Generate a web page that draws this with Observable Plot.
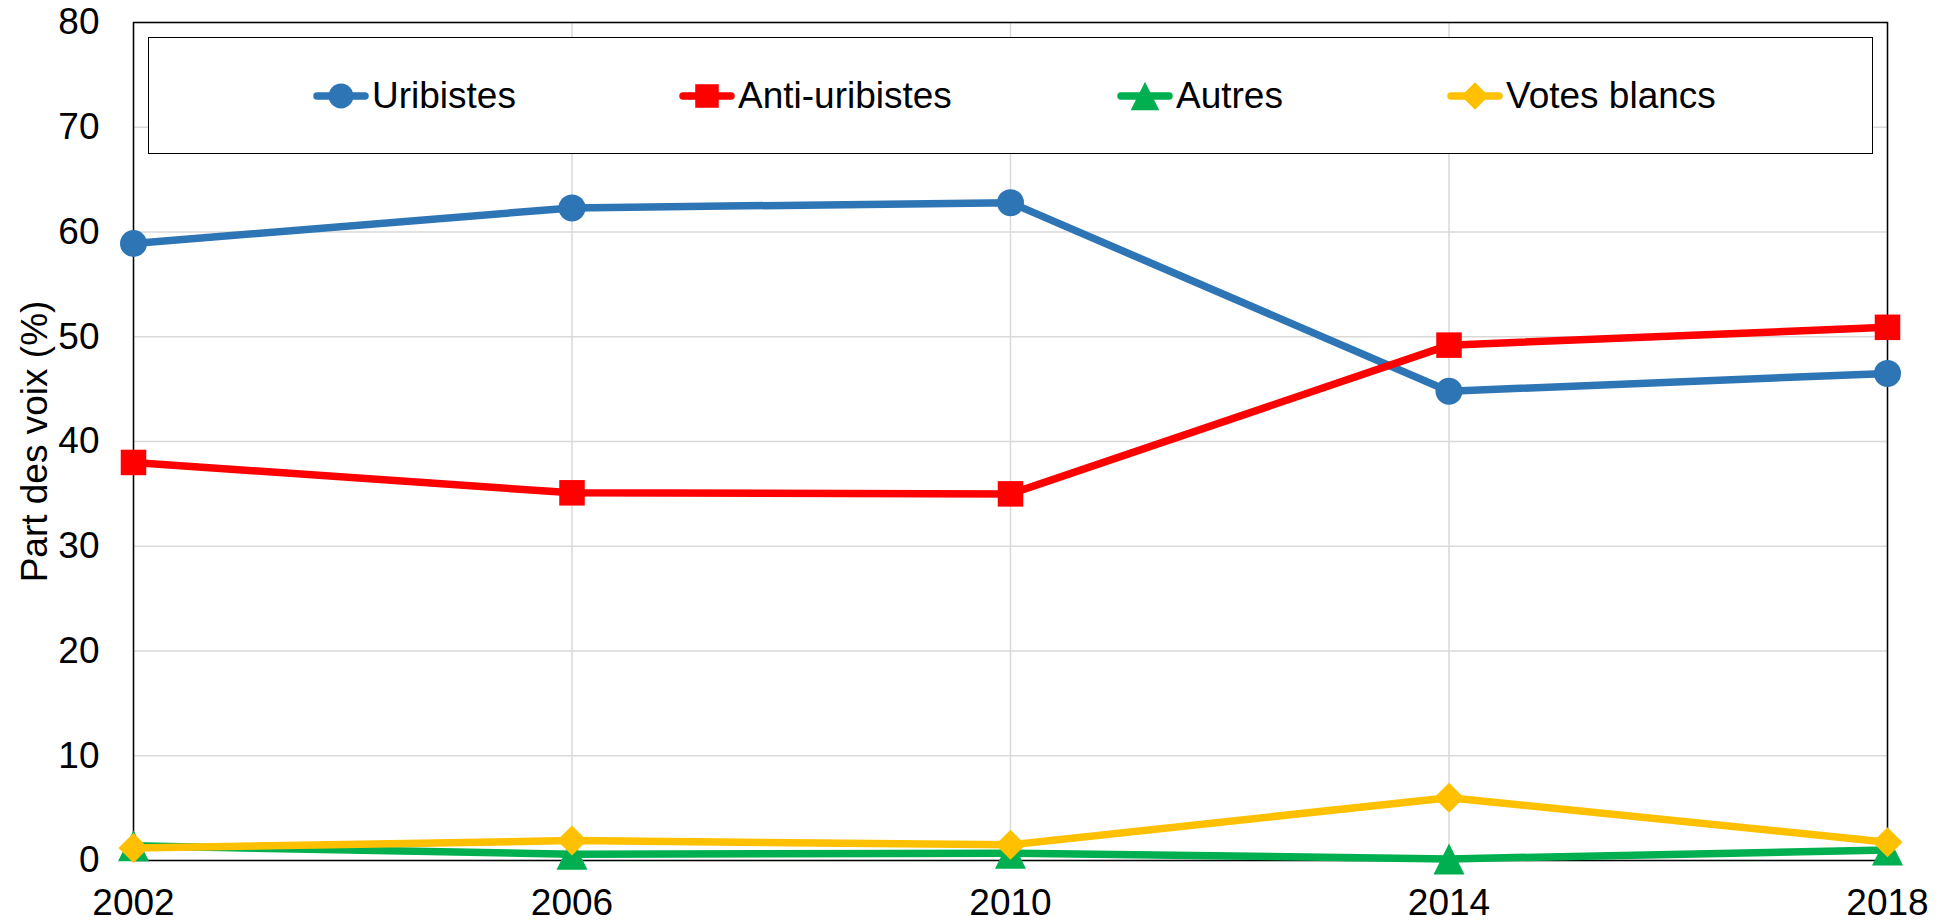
<!DOCTYPE html>
<html>
<head>
<meta charset="utf-8">
<script src="https://cdn.jsdelivr.net/npm/d3@7"></script>
<script src="https://cdn.jsdelivr.net/npm/@observablehq/plot@0.6"></script>
<style>
  html, body { margin: 0; padding: 0; background: #fff; }
  #wrap { position: relative; width: 1948px; height: 922px; font-family: "Liberation Sans", Arial, sans-serif; }
  #legend { position: absolute; left: 148px; top: 37px; width: 1723px; height: 115px; border: 1.5px solid #000; background: #fff; box-sizing: content-box; }
  .item { position: absolute; top: 0; height: 115px; display: flex; align-items: center; font-size: 37px; color: #000; }
  .item svg { display: block; margin-right: 3px; }
</style>
</head>
<body>
<div id="wrap"><div id="chart"></div><div id="legend"></div></div>
<script>
// ---- data ----
const years = [2002, 2006, 2010, 2014, 2018];
const seriesNames = ["Uribistes", "Anti-uribistes", "Autres", "Votes blancs"];
const uribistes = [58.9, 62.3, 62.8, 44.8, 46.5];
const antiUribistes = [38.0, 35.1, 35.0, 49.2, 50.9];
const autres = [1.4, 0.6, 0.7, 0.15, 1.0];
const votesBlancs = [1.2, 1.9, 1.5, 6.0, 1.75];
const yTicks = [0, 10, 20, 30, 40, 50, 60, 70, 80];
const colors = ["#2E75B6", "#FF0000", "#00B050", "#FFC000"];

// ---- custom marker shapes (Excel-like) ----
const squareSym = {draw(c, size) { const s = Math.sqrt(size) / 2; c.rect(-s, -s, 2 * s, 2 * s); }};
const triangleSym = {draw(c, size) { const s = Math.sqrt(size) / 2; c.moveTo(0, -s); c.lineTo(s, s); c.lineTo(-s, s); c.closePath(); }};
const diamondSym = {draw(c, size) { const s = Math.sqrt(size) / 2; c.moveTo(0, -s); c.lineTo(s, 0); c.lineTo(0, s); c.lineTo(-s, 0); c.closePath(); }};
const symbols = ["circle", squareSym, triangleSym, diamondSym];
const radii = [13.5, 14.4, 17.5, 16.9];

const valuesBySeries = [uribistes, antiUribistes, autres, votesBlancs];
const tables = valuesBySeries.map((vals, i) => years.map((year, j) => ({year, value: vals[j], series: seriesNames[i]})));

const marks = [
  Plot.gridY(yTicks, {stroke: "#d9d9d9", strokeOpacity: 1, strokeWidth: 1.5}),
  Plot.gridX(years, {stroke: "#d9d9d9", strokeOpacity: 1, strokeWidth: 1.5}),
  Plot.frame({stroke: "#000", strokeWidth: 1.5}),
  Plot.axisX(years, {tickSize: 0, tickPadding: 28, tickFormat: d => String(d), fontSize: 37, label: null}),
  Plot.axisY(yTicks, {tickSize: 0, tickPadding: 34, fontSize: 37, label: "Part des voix (%)", labelAnchor: "center", labelOffset: 113, labelArrow: "none"})
];
tables.forEach((t, i) => {
  marks.push(Plot.line(t, {x: "year", y: "value", stroke: colors[i], strokeWidth: 7.5, strokeLinejoin: "round", strokeLinecap: "round"}));
  marks.push(Plot.dot(t, {x: "year", y: "value", fill: colors[i], stroke: "none", r: radii[i], symbol: symbols[i]}));
});

const chart = Plot.plot({
  width: 1948,
  height: 922,
  marginLeft: 133,
  marginRight: 61,
  marginTop: 22,
  marginBottom: 62,
  style: {fontFamily: "'Liberation Sans', Arial, sans-serif", fontSize: "37px", color: "#000", background: "#fff"},
  x: {domain: [2002, 2018]},
  y: {domain: [0, 80]},
  marks
});
document.getElementById("chart").appendChild(chart);

// ---- legend (overlaid like Excel's in-plot legend) ----
const legend = document.getElementById("legend");
const itemLeft = [164, 530, 968, 1298];
seriesNames.forEach((name, i) => {
  const div = document.createElement("div");
  div.className = "item";
  div.style.left = itemLeft[i] + "px";
  const w = 56, h = 40;
  const size = Math.PI * radii[i] * radii[i] * 0.85;
  const path = d3.symbol(symbols[i] === "circle" ? d3.symbolCircle : symbols[i], size)();
  div.innerHTML = `<svg width="${w}" height="${h}"><line x1="4" x2="${w - 4}" y1="${h / 2}" y2="${h / 2}" stroke="${colors[i]}" stroke-width="7.5" stroke-linecap="round"/><path d="${path}" transform="translate(${w / 2},${h / 2})" fill="${colors[i]}"/></svg><span>${name}</span>`;
  legend.appendChild(div);
});
</script>
</body>
</html>
